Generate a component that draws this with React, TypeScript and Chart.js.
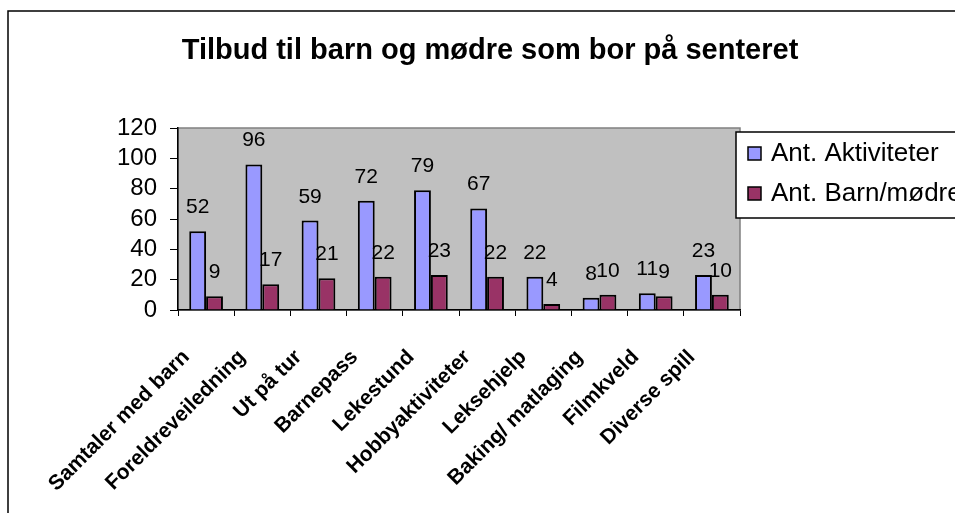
import React, { useEffect, useRef } from "react";
import { Chart, registerables } from "chart.js";

Chart.register(...registerables);

const TITLE = "Tilbud til barn og mødre som bor på senteret";
const categories = [
  "Samtaler med barn",
  "Foreldreveiledning",
  "Ut på tur",
  "Barnepass",
  "Lekestund",
  "Hobbyaktiviteter",
  "Leksehjelp",
  "Baking/ matlaging",
  "Filmkveld",
  "Diverse spill",
];
const seriesNames = ["Ant. Aktiviteter", "Ant. Barn/mødre"];
const aktiviteter = [52, 96, 59, 72, 79, 67, 22, 8, 11, 23];
const barnModre = [9, 17, 21, 22, 23, 22, 4, 10, 9, 10];
const yMin = 0;
const yMax = 120;
const yStep = 20;

const BLUE = "#9999ff";
const RED = "#993366";
const FONT = "'Liberation Sans', Arial, sans-serif";

const W = 955;
const H = 513;
const AREA = { left: 178, right: 740, top: 128, bottom: 310 };

const decorPlugin = {
  id: "decor",
  beforeDraw(chart: any) {
    const ctx = chart.ctx;
    const ca = chart.chartArea;
    ctx.save();
    ctx.fillStyle = "#ffffff";
    ctx.fillRect(0, 0, W, H);
    // outer frame
    ctx.strokeStyle = "#000000";
    ctx.lineWidth = 1.5;
    ctx.strokeRect(8, 11, 1100, 700);
    // plot background
    ctx.fillStyle = "#c0c0c0";
    ctx.fillRect(ca.left, ca.top, ca.right - ca.left, ca.bottom - ca.top);
    ctx.strokeStyle = "#808080";
    ctx.lineWidth = 1.5;
    ctx.strokeRect(ca.left, ca.top, ca.right - ca.left, ca.bottom - ca.top);
    // title
    ctx.fillStyle = "#000000";
    ctx.font = `bold 29px ${FONT}`;
    ctx.textAlign = "center";
    ctx.textBaseline = "alphabetic";
    ctx.fillText(TITLE, 490, 59);
    ctx.restore();
  },
  afterDatasetsDraw(chart: any) {
    const ctx = chart.ctx;
    ctx.save();
    ctx.fillStyle = "#000000";
    ctx.font = `21px ${FONT}`;
    ctx.textAlign = "center";
    ctx.textBaseline = "alphabetic";
    chart.data.datasets.forEach((ds: any, di: number) => {
      const meta = chart.getDatasetMeta(di);
      meta.data.forEach((el: any, i: number) => {
        ctx.fillText(String(ds.data[i]), el.x, el.y - 18);
      });
    });
    ctx.restore();
  },
  afterDraw(chart: any) {
    const ctx = chart.ctx;
    ctx.save();
    // legend box
    ctx.fillStyle = "#ffffff";
    ctx.fillRect(736, 132, 400, 86);
    ctx.strokeStyle = "#000000";
    ctx.lineWidth = 1.5;
    ctx.strokeRect(736, 132, 400, 86);
    const colors = [BLUE, RED];
    const baselines = [161, 201];
    ctx.font = `26px ${FONT}`;
    ctx.textAlign = "left";
    ctx.textBaseline = "alphabetic";
    seriesNames.forEach((name, i) => {
      const b = baselines[i];
      ctx.fillStyle = colors[i];
      ctx.fillRect(748, b - 14, 13, 13);
      ctx.strokeStyle = "#000000";
      ctx.lineWidth = 1.5;
      ctx.strokeRect(748, b - 14, 13, 13);
      ctx.fillStyle = "#000000";
      ctx.fillText(name, 771, b);
    });
    ctx.restore();
  },
};

export default function App() {
  const ref = useRef<HTMLCanvasElement | null>(null);
  useEffect(() => {
    if (!ref.current) return;
    const chart = new Chart(ref.current, {
      type: "bar",
      data: {
        labels: categories,
        datasets: [
          {
            label: seriesNames[0],
            data: aktiviteter,
            backgroundColor: BLUE,
            borderColor: "#000000",
            borderWidth: 2,
          },
          {
            label: seriesNames[1],
            data: barnModre,
            backgroundColor: RED,
            borderColor: "#000000",
            borderWidth: 2,
          },
        ],
      },
      options: {
        responsive: false,
        animation: false,
        devicePixelRatio: 1,
        layout: {
          padding: { left: 0, top: AREA.top, right: W - AREA.right, bottom: 0 },
        },
        datasets: {
          bar: { categoryPercentage: 0.6, barPercentage: 1 },
        },
        plugins: {
          legend: { display: false },
          title: { display: false },
          tooltip: { enabled: false },
        },
        scales: {
          x: {
            offset: true,
            grid: {
              offset: true,
              drawOnChartArea: false,
              drawTicks: true,
              tickLength: 6,
              color: "#000000",
              lineWidth: 1,
            },
            border: { display: true, color: "#000000", width: 1.5 },
            ticks: {
              color: "#000000",
              font: { family: FONT, size: 21, weight: "bold" },
              minRotation: 45,
              maxRotation: 45,
              autoSkip: false,
              labelOffset: -20,
              padding: 29,
            },
            afterFit(scale: any) {
              scale.height = H - AREA.bottom;
            },
          },
          y: {
            min: yMin,
            max: yMax,
            grid: {
              drawOnChartArea: false,
              drawTicks: true,
              tickLength: 8,
              color: "#000000",
              lineWidth: 1,
            },
            border: { display: true, color: "#000000", width: 1.5 },
            ticks: {
              stepSize: yStep,
              autoSkip: false,
              color: "#000000",
              font: { family: FONT, size: 24 },
              padding: 13,
            },
            afterFit(scale: any) {
              scale.width = AREA.left;
            },
          },
        },
      },
      plugins: [decorPlugin],
    } as any);
    return () => chart.destroy();
  }, []);
  return (
    <div style={{ position: "fixed", left: 0, top: 0, width: W, height: H, background: "#fff" }}>
      <canvas ref={ref} width={W} height={H} style={{ display: "block" }} />
    </div>
  );
}
